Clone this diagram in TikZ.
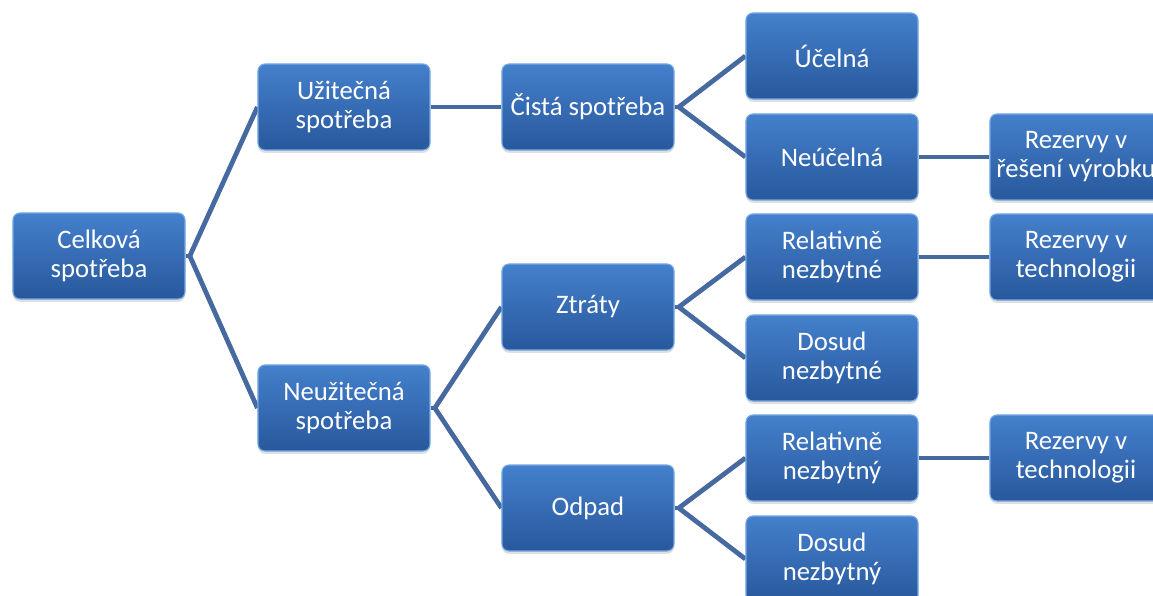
\documentclass[tikz,border=0pt]{standalone}
\usepackage{fontspec}
\setmainfont{Carlito}
\usetikzlibrary{shadows, backgrounds}
\definecolor{boxtop}{RGB}{68,128,204}
\definecolor{boxbot}{RGB}{40,88,156}
\definecolor{boxedge}{RGB}{118,168,228}
\definecolor{linkblue}{RGB}{70,106,160}

\tikzset{
  blok/.style={rectangle, rounded corners=5pt, top color=boxtop, bottom color=boxbot,
    draw=boxedge, line width=0.8pt, minimum width=4.3cm, minimum height=2.15cm,
    inner sep=0pt, align=center, text=white, font=\fontsize{19}{20.6}\selectfont,
    drop shadow={opacity=0.25, shadow xshift=0pt, shadow yshift=-2pt}},
  spoj/.style={linkblue, line width=3.4pt, line join=miter}
}

\begin{document}
\begin{tikzpicture}[x=0.025cm, y=-0.025cm]
  \useasboundingbox (0,0) rectangle (1153,595);
  % Levels
  \node[blok] (cel) at (99,256) {Celková\\spotřeba};
  \node[blok] (uzi) at (344,107) {Užitečná\\spotřeba};
  \node[blok] (neu) at (344,408) {Neužitečná\\spotřeba};
  \node[blok] (cis) at (588,107) {Čistá spotřeba};
  \node[blok] (ztr) at (588,307) {Ztráty};
  \node[blok] (odp) at (588,508) {Odpad};
  \node[blok] (uce) at (832,56) {Účelná};
  \node[blok] (neuc) at (832,157) {Neúčelná};
  \node[blok] (relE) at (832,257) {Relativně\\nezbytné};
  \node[blok] (dosE) at (832,358) {Dosud\\nezbytné};
  \node[blok] (relY) at (832,458) {Relativně\\nezbytný};
  \node[blok] (dosY) at (832,559) {Dosud\\nezbytný};
  \node[blok] (rezV) at (1076,157) {Rezervy v\\řešení výrobku};
  \node[blok] (rezT) at (1076,257) {Rezervy v\\technologii};
  \node[blok] (rezT2) at (1076,458) {Rezervy v\\technologii};
  % Connectors
  \begin{pgfonlayer}{background}
    \foreach \p/\a/\b in {cel/uzi/neu, neu/ztr/odp, cis/uce/neuc, ztr/relE/dosE, odp/relY/dosY} {
      \coordinate (\p-k) at ([xshift=3pt]\p.east);
      \draw[spoj] (\a.west) -- (\p-k) -- (\b.west);
      \draw[spoj] (\p.east) -- (\p-k);
    }
    \foreach \p/\c in {uzi/cis, neuc/rezV, relE/rezT, relY/rezT2}
      \draw[spoj] (\p.east) -- (\c.west);
  \end{pgfonlayer}
\end{tikzpicture}
\end{document}
